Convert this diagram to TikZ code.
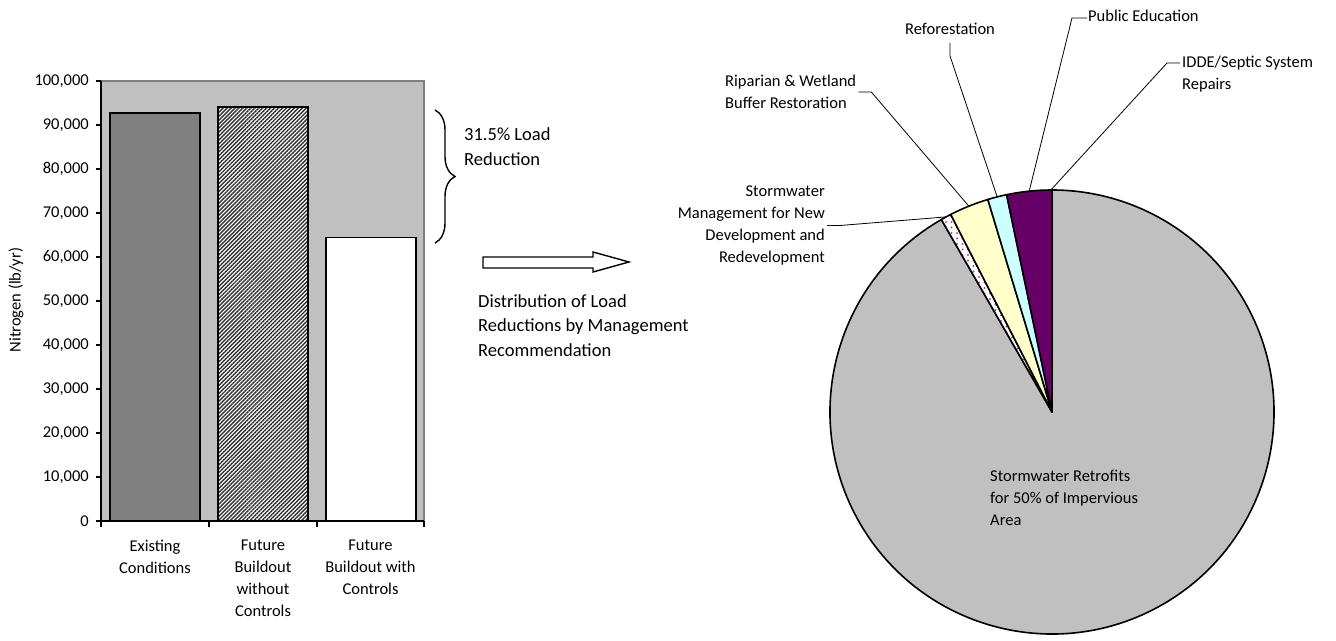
\documentclass[tikz,border=0pt]{standalone}
\usepackage{fontspec}
\setmainfont{Carlito}
\usetikzlibrary{calc,patterns.meta,decorations.pathreplacing}

\definecolor{plotgray}{HTML}{C0C0C0}
\definecolor{bardark}{HTML}{808080}
\definecolor{hatchgray}{HTML}{303030}
\definecolor{sliceyel}{HTML}{FFFFCC}
\definecolor{slicecyan}{HTML}{CCFFFF}
\definecolor{slicepurp}{HTML}{660066}
\definecolor{dotpink}{HTML}{B04C88}

\newcommand\chartfont{\fontsize{16.5}{22}\selectfont}
\newcommand\notefont{\fontsize{18.5}{24.5}\selectfont}

\begin{document}
\begin{tikzpicture}[x=1pt,y=1pt,
  bar/.style={draw=black,line width=1.6pt},
  axisline/.style={draw=black,line width=1.2pt},
  lbl/.style={font=\chartfont,inner sep=0pt},
  note/.style={font=\notefont,inner sep=0pt,align=left},
  leader/.style={line width=0.8pt},
  slice/.style={draw=black,line width=1.6pt,line join=round}]
\useasboundingbox (0,0) rectangle (1336,640);

\fill[plotgray] (101,119) rectangle (424,559);
\draw[bardark,line width=1.2pt] (101,559) -- (424,559) -- (424,119);
\draw[bar,fill=bardark] (110,119) rectangle (200,526.9);
\draw[bar,preaction={fill=white},pattern={Lines[angle=45,distance=2.8pt,line width=1.4pt]},pattern color=hatchgray] (218,119) rectangle (308,533);
\draw[bar,fill=white] (326,119) rectangle (416,402.6);
\foreach \v in {0,1,...,10}{
  \draw[axisline] (96,119+44*\v) -- (101,119+44*\v);
  \node[lbl,anchor=east] (tick\v) at (89,119+44*\v) {\ifnum\v=0 0\else\v0,000\fi};
}
\foreach \x in {101,209,317,424}
  \draw[axisline] (\x,119) -- (\x,113);
\draw[axisline] (101,559) -- (101,119) -- (424,119);

\node[lbl,align=center,anchor=north] (cat1) at (155,100) {Existing\\Conditions};
\node[lbl,align=center,anchor=north] (cat2) at (263,100) {Future\\Buildout\\without\\Controls};
\node[lbl,align=center,anchor=north] (cat3) at (370.5,100) {Future\\Buildout with\\Controls};
\node[lbl,rotate=90] (ytitle) at (16,340) {Nitrogen (lb/yr)};

\coordinate (bracetop) at (435,530);
\coordinate (bracebot) at (435,397);
\draw[line width=1.4pt,decorate,decoration={brace,amplitude=20pt}] (bracetop) -- (bracebot);
\node[note,anchor=west] (reduct) at (464,493.5) {31.5\% Load\\Reduction};

\draw[line width=1.4pt,line join=miter] (483,383) -- (593,383) -- (593,388) -- (629,378) -- (593,368) -- (593,372) -- (483,372) -- cycle;
\node[note,anchor=west] (distrib) at (478,314.5) {Distribution of Load\\Reductions by Management\\Recommendation};

\coordinate (ctr) at (1052,228);
\filldraw[slice,fill=plotgray] (ctr) -- ++(119.9:222) arc[start angle=119.9,end angle=450,radius=222] -- cycle;
\filldraw[slice,preaction={fill=white},pattern={Dots[distance=5.5pt,radius=1.2pt]},pattern color=dotpink] (ctr) -- ++(117.15:222) arc[start angle=117.15,end angle=119.9,radius=222] -- cycle;
\filldraw[slice,fill=sliceyel] (ctr) -- ++(106.8:222) arc[start angle=106.8,end angle=117.15,radius=222] -- cycle;
\filldraw[slice,fill=slicecyan] (ctr) -- ++(101.8:222) arc[start angle=101.8,end angle=106.8,radius=222] -- cycle;
\filldraw[slice,fill=slicepurp] (ctr) -- ++(90:222) arc[start angle=90,end angle=101.8,radius=222] -- cycle;

\coordinate (e-idde) at ($(ctr)+(90.3:222)$);
\coordinate (e-pub) at ($(ctr)+(95.9:222)$);
\coordinate (e-refor) at ($(ctr)+(104.3:222)$);
\coordinate (e-ripar) at ($(ctr)+(112:222)$);
\coordinate (e-swm) at ($(ctr)+(118.5:222)$);

\node[lbl,anchor=west] (pub) at (1088,624) {Public Education};
\node[lbl,anchor=west,align=left] (idde) at (1182,566) {IDDE/Septic System\\Repairs};
\node[lbl] (refor) at (950,611) {Reforestation};
\node[lbl,anchor=west,align=left] (ripar) at (725,548) {Riparian \& Wetland\\Buffer Restoration};
\node[lbl,anchor=east,align=right] (swm) at (825,414.5) {Stormwater\\Management for New\\Development and\\Redevelopment};
\node[lbl,anchor=west,align=left] (retro) at (990,142) {Stormwater Retrofits\\for 50\% of Impervious\\Area};

\draw[leader] ($(pub.west)+(-1,-2)$) -- ++(-15,0) -- (e-pub);
\draw[leader] ($(idde.west)+(-2,11)$) -- ++(-13,0) -- (e-idde);
\draw[leader] ($(refor.south)+(0,-8)$) -- ++(0,-13) -- (e-refor);
\draw[leader] ($(ripar.east)+(2,0)$) -- ++(13,0) -- (e-ripar);
\draw[leader] ($(swm.east)+(2,0)$) -- ++(13,0) -- (e-swm);
\end{tikzpicture}
\end{document}
